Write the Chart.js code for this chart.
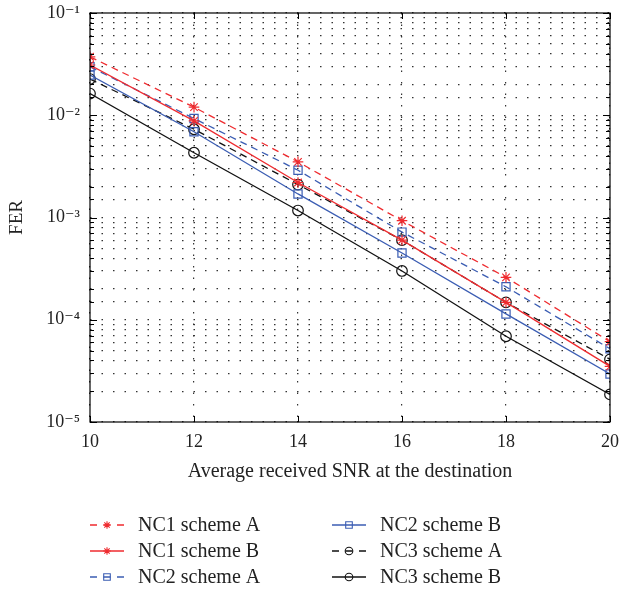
<!DOCTYPE html>
<html>
<head>
<meta charset="utf-8">
<script src="https://cdn.jsdelivr.net/npm/chart.js@4/dist/chart.umd.min.js"></script>
<style>
  html, body { margin: 0; padding: 0; background: #fff; }
  #wrap { width: 622px; height: 596px; }
</style>
</head>
<body>
<div id="wrap"><canvas id="ferChart" width="622" height="596"></canvas></div>
<script>
const snr = [10, 12, 14, 16, 18, 20];
const nc1SchemeA = [0.0373, 0.012, 0.0035, 0.00093, 0.00026, 6.1e-5];
const nc1SchemeB = [0.031, 0.0088, 0.0022, 0.0006, 0.000148, 3.5e-5];
const nc2SchemeA = [0.0298, 0.0093, 0.0029, 0.00072, 0.00021, 5.2e-5];
const nc2SchemeB = [0.0247, 0.0069, 0.0017, 0.00045, 0.000114, 2.95e-5];
const nc3SchemeA = [0.0226, 0.0073, 0.0021, 0.0006, 0.000148, 4.1e-5];
const nc3SchemeB = [0.0163, 0.0043, 0.00117, 0.0003, 6.9e-5, 1.86e-5];

const RED = '#ef2b2f';
const BLUE = '#3b5db3';
const BLACK = '#111111';
const FONT = "'Liberation Serif', 'DejaVu Serif', serif";

function pts(values) {
  return values.map((v, i) => ({ x: snr[i], y: v }));
}

function series(label, values, color, dashed, marker) {
  return {
    label: label,
    data: pts(values),
    borderColor: color,
    backgroundColor: 'rgba(0,0,0,0)',
    borderWidth: 1.3,
    borderDash: dashed ? [7, 5] : [],
    pointStyle: marker,
    pointRadius: marker === 'rect' ? 5.8 : 5.3,
    pointBorderWidth: 1.2,
    pointBorderColor: color,
    pointBackgroundColor: 'rgba(0,0,0,0)',
    tension: 0
  };
}

const supDigits = { '-': '\u207B', '0': '\u2070', '1': '\u00B9', '2': '\u00B2', '3': '\u00B3', '4': '\u2074', '5': '\u2075' };
function decadeLabel(v) {
  const e = Math.log10(v);
  const r = Math.round(e);
  if (Math.abs(e - r) > 1e-6) return '';
  return '10' + String(r).split('').map(c => supDigits[c] || c).join('');
}

function drawMarker(ctx, style, x, y, r) {
  ctx.beginPath();
  if (style === 'star') {
    for (let k = 0; k < 4; k++) {
      const a = k * Math.PI / 4;
      ctx.moveTo(x - r * Math.cos(a), y - r * Math.sin(a));
      ctx.lineTo(x + r * Math.cos(a), y + r * Math.sin(a));
    }
  } else if (style === 'rect') {
    ctx.rect(x - r, y - r, 2 * r, 2 * r);
  } else {
    ctx.arc(x, y, r, 0, Math.PI * 2);
  }
  ctx.stroke();
}

// frame, inward tick marks and the two-column legend
const extras = {
  id: 'extras',
  afterDraw(chart) {
    const ctx = chart.ctx;
    const area = chart.chartArea;
    const xs = chart.scales.x;
    const ys = chart.scales.y;
    ctx.save();
    ctx.setLineDash([]);
    ctx.strokeStyle = '#000';
    ctx.lineWidth = 1.2;
    ctx.strokeRect(area.left, area.top, area.right - area.left, area.bottom - area.top);

    ctx.lineWidth = 1;
    ctx.beginPath();
    xs.ticks.forEach(t => {
      const px = Math.round(xs.getPixelForValue(t.value)) + 0.5;
      ctx.moveTo(px, area.bottom); ctx.lineTo(px, area.bottom - 6);
      ctx.moveTo(px, area.top); ctx.lineTo(px, area.top + 6);
    });
    ys.ticks.forEach(t => {
      const py = Math.round(ys.getPixelForValue(t.value)) + 0.5;
      const len = decadeLabel(t.value) ? 7 : 4;
      ctx.moveTo(area.left, py); ctx.lineTo(area.left + len, py);
      ctx.moveTo(area.right, py); ctx.lineTo(area.right - len, py);
    });
    ctx.stroke();

    const colX = [90, 332];
    const rowY = [525, 551, 577];
    chart.data.datasets.forEach((ds, i) => {
      const x0 = colX[Math.floor(i / 3)];
      const y = rowY[i % 3];
      ctx.strokeStyle = ds.borderColor;
      ctx.lineWidth = 1.3;
      ctx.setLineDash(ds.borderDash.length ? [7, 6.5] : []);
      ctx.beginPath();
      ctx.moveTo(x0, y); ctx.lineTo(x0 + 34, y);
      ctx.stroke();
      ctx.setLineDash([]);
      ctx.lineWidth = 1.1;
      drawMarker(ctx, ds.pointStyle, x0 + 17, y, ds.pointStyle === 'rect' ? 3.3 : 3.8);
      ctx.fillStyle = '#222';
      ctx.font = '20px ' + FONT;
      ctx.textAlign = 'left';
      ctx.textBaseline = 'middle';
      ctx.fillText(ds.label, x0 + 48, y + 1);
    });
    ctx.restore();
  }
};

const ctx = document.getElementById('ferChart');
new Chart(ctx, {
  type: 'line',
  data: {
    datasets: [
      series('NC1 scheme A', nc1SchemeA, RED, true, 'star'),
      series('NC1 scheme B', nc1SchemeB, RED, false, 'star'),
      series('NC2 scheme A', nc2SchemeA, BLUE, true, 'rect'),
      series('NC2 scheme B', nc2SchemeB, BLUE, false, 'rect'),
      series('NC3 scheme A', nc3SchemeA, BLACK, true, 'circle'),
      series('NC3 scheme B', nc3SchemeB, BLACK, false, 'circle')
    ]
  },
  options: {
    responsive: false,
    animation: false,
    layout: { padding: { top: 13, right: 12, left: 0, bottom: 112 } },
    plugins: { legend: { display: false }, tooltip: { enabled: false } },
    scales: {
      x: {
        type: 'linear',
        min: 10,
        max: 20,
        afterFit: scale => { scale.height = 62; scale.paddingLeft = 0; scale.paddingRight = 0; },
        ticks: { stepSize: 2, padding: 9, color: '#222', font: { family: FONT, size: 18 } },
        grid: { color: '#333', lineWidth: 1.2, drawTicks: false },
        border: { display: false, dash: [1.5, 10] },
        title: {
          display: true,
          text: 'Average received SNR at the destination',
          color: '#222',
          font: { family: FONT, size: 20 },
          padding: { top: 0, bottom: 0 }
        }
      },
      y: {
        type: 'logarithmic',
        min: 1e-5,
        max: 1e-1,
        afterFit: scale => { scale.width = 90; scale.paddingTop = 0; scale.paddingBottom = 0; },
        ticks: {
          autoSkip: false,
          padding: 10,
          color: '#222',
          font: { family: FONT, size: 18 },
          callback: v => decadeLabel(v)
        },
        grid: { color: '#333', lineWidth: 1.2, drawTicks: false },
        border: { display: false, dash: [1.5, 10] },
        title: {
          display: true,
          text: 'FER',
          color: '#222',
          font: { family: FONT, size: 19 },
          padding: { top: 6, bottom: 0 }
        }
      }
    }
  },
  plugins: [extras]
});
</script>
</body>
</html>
